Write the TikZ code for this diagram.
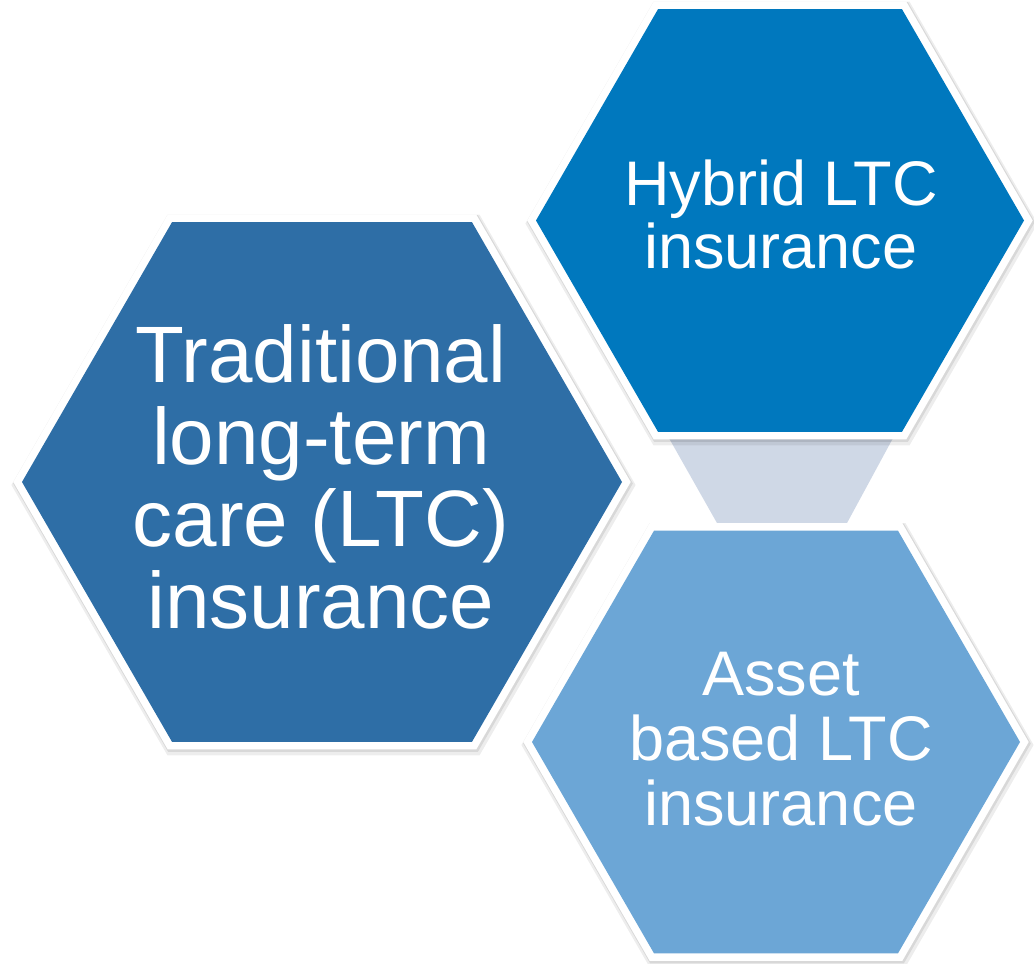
\documentclass[tikz,border=0pt]{standalone}
\usepackage{fontspec}
\setmainfont{Liberation Sans}
\usetikzlibrary{calc}
\definecolor{hexdark}{HTML}{2E6EA6}
\definecolor{hexmid}{HTML}{0078BE}
\definecolor{hexlight}{HTML}{6CA6D6}
\definecolor{linkfill}{HTML}{CFD8E6}
\tikzset{
  hexface/.style={
    line join=round,
    preaction={draw=black, draw opacity=0.07, line width=21pt, transform canvas={shift={(1.5pt,-3pt)}}},
    preaction={draw=black, draw opacity=0.09, line width=17pt, transform canvas={shift={(1pt,-1.5pt)}}},
    preaction={draw=white, line width=15pt},
    fill=#1},
  hextext/.style={text=white, align=center, anchor=base, inner sep=0pt}
}
% flat-topped regular hexagon: centre (#1,#2), side #3
\newcommand\hexpath[3]{%
  (#1-#3/2, #2-0.8660254*#3) -- (#1+#3/2, #2-0.8660254*#3) -- (#1+#3, #2)
  -- (#1+#3/2, #2+0.8660254*#3) -- (#1-#3/2, #2+0.8660254*#3) -- (#1-#3, #2) -- cycle}
\begin{document}
\begin{tikzpicture}[x=1pt, y=-1pt]
  \useasboundingbox (0,0) rectangle (1034,964);
  % link between the two right-hand hexagons
  \fill[linkfill] (665.5,432) -- (896.3,432) -- (842.7,531) -- (721.5,531) -- cycle;
  % hexagons
  \path[hexface=hexdark] \hexpath{322}{482}{300};
  \path[hexface=hexmid] \hexpath{780}{220.5}{244};
  \path[hexface=hexlight] \hexpath{776}{742}{244};
  % labels (base anchor sits on the last line)
  \node[hextext, font=\fontsize{80}{82}\selectfont] (trad) at (321,628)
    {Traditional\\long-term\\care (LTC)\\insurance};
  \node[hextext, font=\fontsize{63}{63}\selectfont] (hybrid) at (781,268)
    {Hybrid LTC\\insurance};
  \node[hextext, font=\fontsize{63}{65}\selectfont] (asset) at (781,825)
    {Asset\\based LTC\\insurance};
\end{tikzpicture}
\end{document}
